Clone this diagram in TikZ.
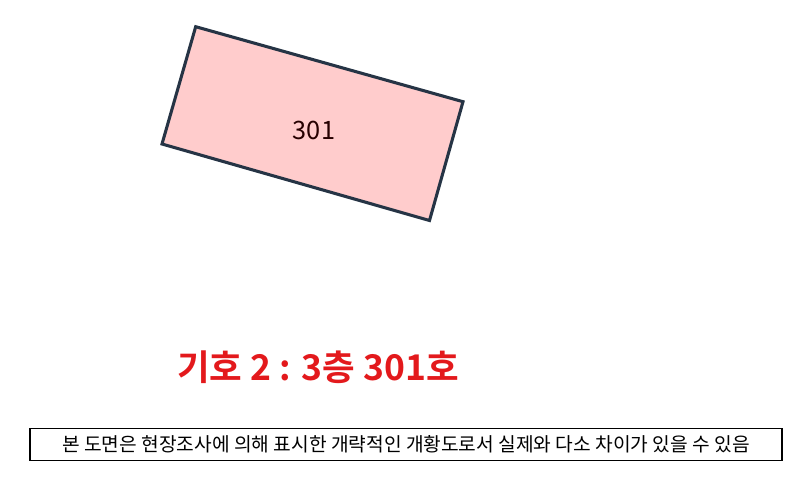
\documentclass[tikz,border=0pt]{standalone}
\usepackage{fontspec}
\setmainfont{Noto Sans CJK KR}
\newfontfamily\krbold{Noto Sans CJK KR Bold}
\definecolor{roompink}{HTML}{FFCCCC}
\definecolor{roomline}{HTML}{263445}
\definecolor{labelred}{HTML}{E3191C}
\begin{document}
\begin{tikzpicture}[x=0.75pt, y=-0.75pt,
        room/.style={fill=roompink, draw=roomline, line width=2.3pt, line join=miter},
        roomno/.style={font=\fontsize{19}{22}\selectfont, text=black!85!red},
        title/.style={font=\krbold\fontsize{26.6}{31}\selectfont, text=labelred},
        notebox/.style={draw=black, line width=0.9pt, minimum width=564pt, minimum height=24.5pt, inner sep=0pt, font=\fontsize{14.4}{16}\selectfont}]
    \useasboundingbox (0, 0) rectangle (800, 482);

    \draw[room] (195.7, 26.7) -- (463, 101.7) -- (429.5, 220.5) -- (162, 144) -- cycle;
    \node[roomno] (room301) at (314, 130) {301};

    \node[title] (label) at (318, 367) {기호 2 : 3층 301호};

    \node[notebox] (note) at (406, 444.5) {본 도면은 현장조사에 의해 표시한 개략적인 개황도로서 실제와 다소 차이가 있을 수 있음};
\end{tikzpicture}
\end{document}
